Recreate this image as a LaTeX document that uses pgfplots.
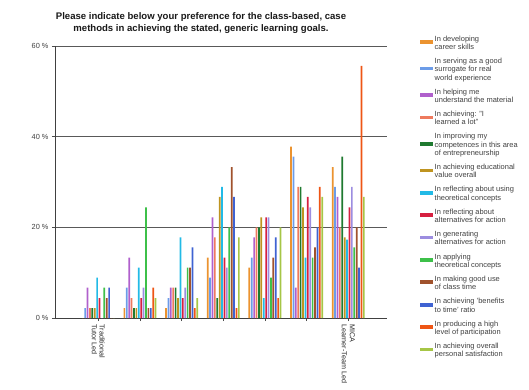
\documentclass[border=0pt]{standalone}
\usepackage{fontspec}
\setmainfont{Liberation Sans}
\usepackage{pgfplots}
\pgfplotsset{compat=1.18}
\definecolor{c1}{HTML}{EB9330}
\definecolor{c2}{HTML}{6C9CE8}
\definecolor{c3}{HTML}{B060CC}
\definecolor{c4}{HTML}{EE7A5E}
\definecolor{c5}{HTML}{1F7A30}
\definecolor{c6}{HTML}{BF9420}
\definecolor{c7}{HTML}{22BAE6}
\definecolor{c8}{HTML}{D62040}
\definecolor{c9}{HTML}{9C8DE0}
\definecolor{c10}{HTML}{3EC04A}
\definecolor{c11}{HTML}{A0522D}
\definecolor{c12}{HTML}{3F63D2}
\definecolor{c13}{HTML}{EE5515}
\definecolor{c14}{HTML}{A6C646}
\pgfplotsset{sw/.style={fill=#1, draw=none, legend image code/.code={\fill[##1] (0bp,-0.6bp) rectangle (13bp,3.2bp);}}}
\begin{document}
\begin{tikzpicture}
\useasboundingbox (-55bp,-72bp) rectangle (474bp,318bp);
\begin{axis}[
  at={(0,0)}, anchor=south west, scale only axis,
  width=332bp, height=272bp,
  xmin=-1.04, xmax=6.93, ymin=0, ymax=60,
  ybar=0.7bp, bar width=1.7bp,
  axis lines=left, axis line style={-, black!75, line width=0.8bp},
  ytick={0,20,40,60}, yticklabels={0 \%,20 \%,40 \%,60 \%},
  ymajorgrids, grid style={black!65, line width=0.8bp},
  xtick={0,1,2,3,4,5,6},
  xticklabels={{Traditional\\Tutor Led},{},{},{},{},{},{MICA\\Learner-Team Led}},
  xticklabel style={rotate=-90, anchor=west, align=left, font=\fontsize{7.2}{8}\selectfont, text=black!85},
  yticklabel style={font=\fontsize{7.4}{8}\selectfont, text=black!75},
  tick align=outside, major tick length=3bp, tick style={black!70, line width=0.6bp},
  every axis title shift=0pt,
  title={Please indicate below your preference for the class-based, case\\methods in achieving the stated, generic learning goals.},
  title style={at={(axis description cs:0.4398,1.0846)}, anchor=center, align=center, font=\bfseries\fontsize{9.6}{11.8}\selectfont, text=black!90},
  legend cell align=left,
  legend style={at={(axis description cs:1.0994,1.044)}, anchor=north west, draw=none, fill=none,
    font=\fontsize{7.5}{8.3}\selectfont, text=black!75, row sep=4.2bp, inner sep=0pt,
    cells={align=left}, nodes={inner sep=1.5bp}},
]
\addplot[sw=c1] coordinates {(0,0) (1,2.2) (2,2.2) (3,13.3) (4,11.1) (5,37.8) (6,33.3)};
\addlegendentry{In developing\\career skills}
\addplot[sw=c2] coordinates {(0,2.2) (1,6.7) (2,4.4) (3,8.9) (4,13.3) (5,35.6) (6,28.9)};
\addlegendentry{In serving as a good\\surrogate for real\\world experience}
\addplot[sw=c3] coordinates {(0,6.7) (1,13.3) (2,6.7) (3,22.2) (4,17.8) (5,6.7) (6,26.7)};
\addlegendentry{In helping me\\understand the material}
\addplot[sw=c4] coordinates {(0,2.2) (1,4.4) (2,6.7) (3,17.8) (4,20.0) (5,28.9) (6,20.0)};
\addlegendentry{In achieving: "I\\learned a lot"}
\addplot[sw=c5] coordinates {(0,2.2) (1,2.2) (2,6.7) (3,4.4) (4,20.0) (5,28.9) (6,35.6)};
\addlegendentry{In improving my\\competences in this area\\of entrepreneurship}
\addplot[sw=c6] coordinates {(0,2.2) (1,2.2) (2,4.4) (3,26.7) (4,22.2) (5,24.4) (6,17.8)};
\addlegendentry{In achieving educational\\value overall}
\addplot[sw=c7] coordinates {(0,8.9) (1,11.1) (2,17.8) (3,28.9) (4,4.4) (5,13.3) (6,17.3)};
\addlegendentry{In reflecting about using\\theoretical concepts}
\addplot[sw=c8] coordinates {(0,4.4) (1,4.4) (2,4.4) (3,13.3) (4,22.2) (5,26.7) (6,24.4)};
\addlegendentry{In reflecting about\\alternatives for action}
\addplot[sw=c9] coordinates {(0,0) (1,6.7) (2,6.7) (3,11.1) (4,22.2) (5,24.4) (6,28.9)};
\addlegendentry{In generating\\alternatives for action}
\addplot[sw=c10] coordinates {(0,6.7) (1,24.4) (2,11.1) (3,20.0) (4,8.9) (5,13.3) (6,15.6)};
\addlegendentry{In applying\\theoretical concepts}
\addplot[sw=c11] coordinates {(0,4.4) (1,2.2) (2,11.1) (3,33.3) (4,13.3) (5,15.6) (6,20.0)};
\addlegendentry{In making good use\\of class time}
\addplot[sw=c12] coordinates {(0,6.7) (1,2.2) (2,15.6) (3,26.7) (4,17.8) (5,20.0) (6,11.1)};
\addlegendentry{In achieving 'benefits\\to time' ratio}
\addplot[sw=c13] coordinates {(0,0) (1,6.7) (2,2.2) (3,2.2) (4,4.4) (5,28.9) (6,55.6)};
\addlegendentry{In producing a high\\level of participation}
\addplot[sw=c14] coordinates {(0,0) (1,4.4) (2,4.4) (3,17.8) (4,20.0) (5,26.7) (6,26.7)};
\addlegendentry{In achieving overall\\personal satisfaction}
\end{axis}
\end{tikzpicture}
\end{document}
